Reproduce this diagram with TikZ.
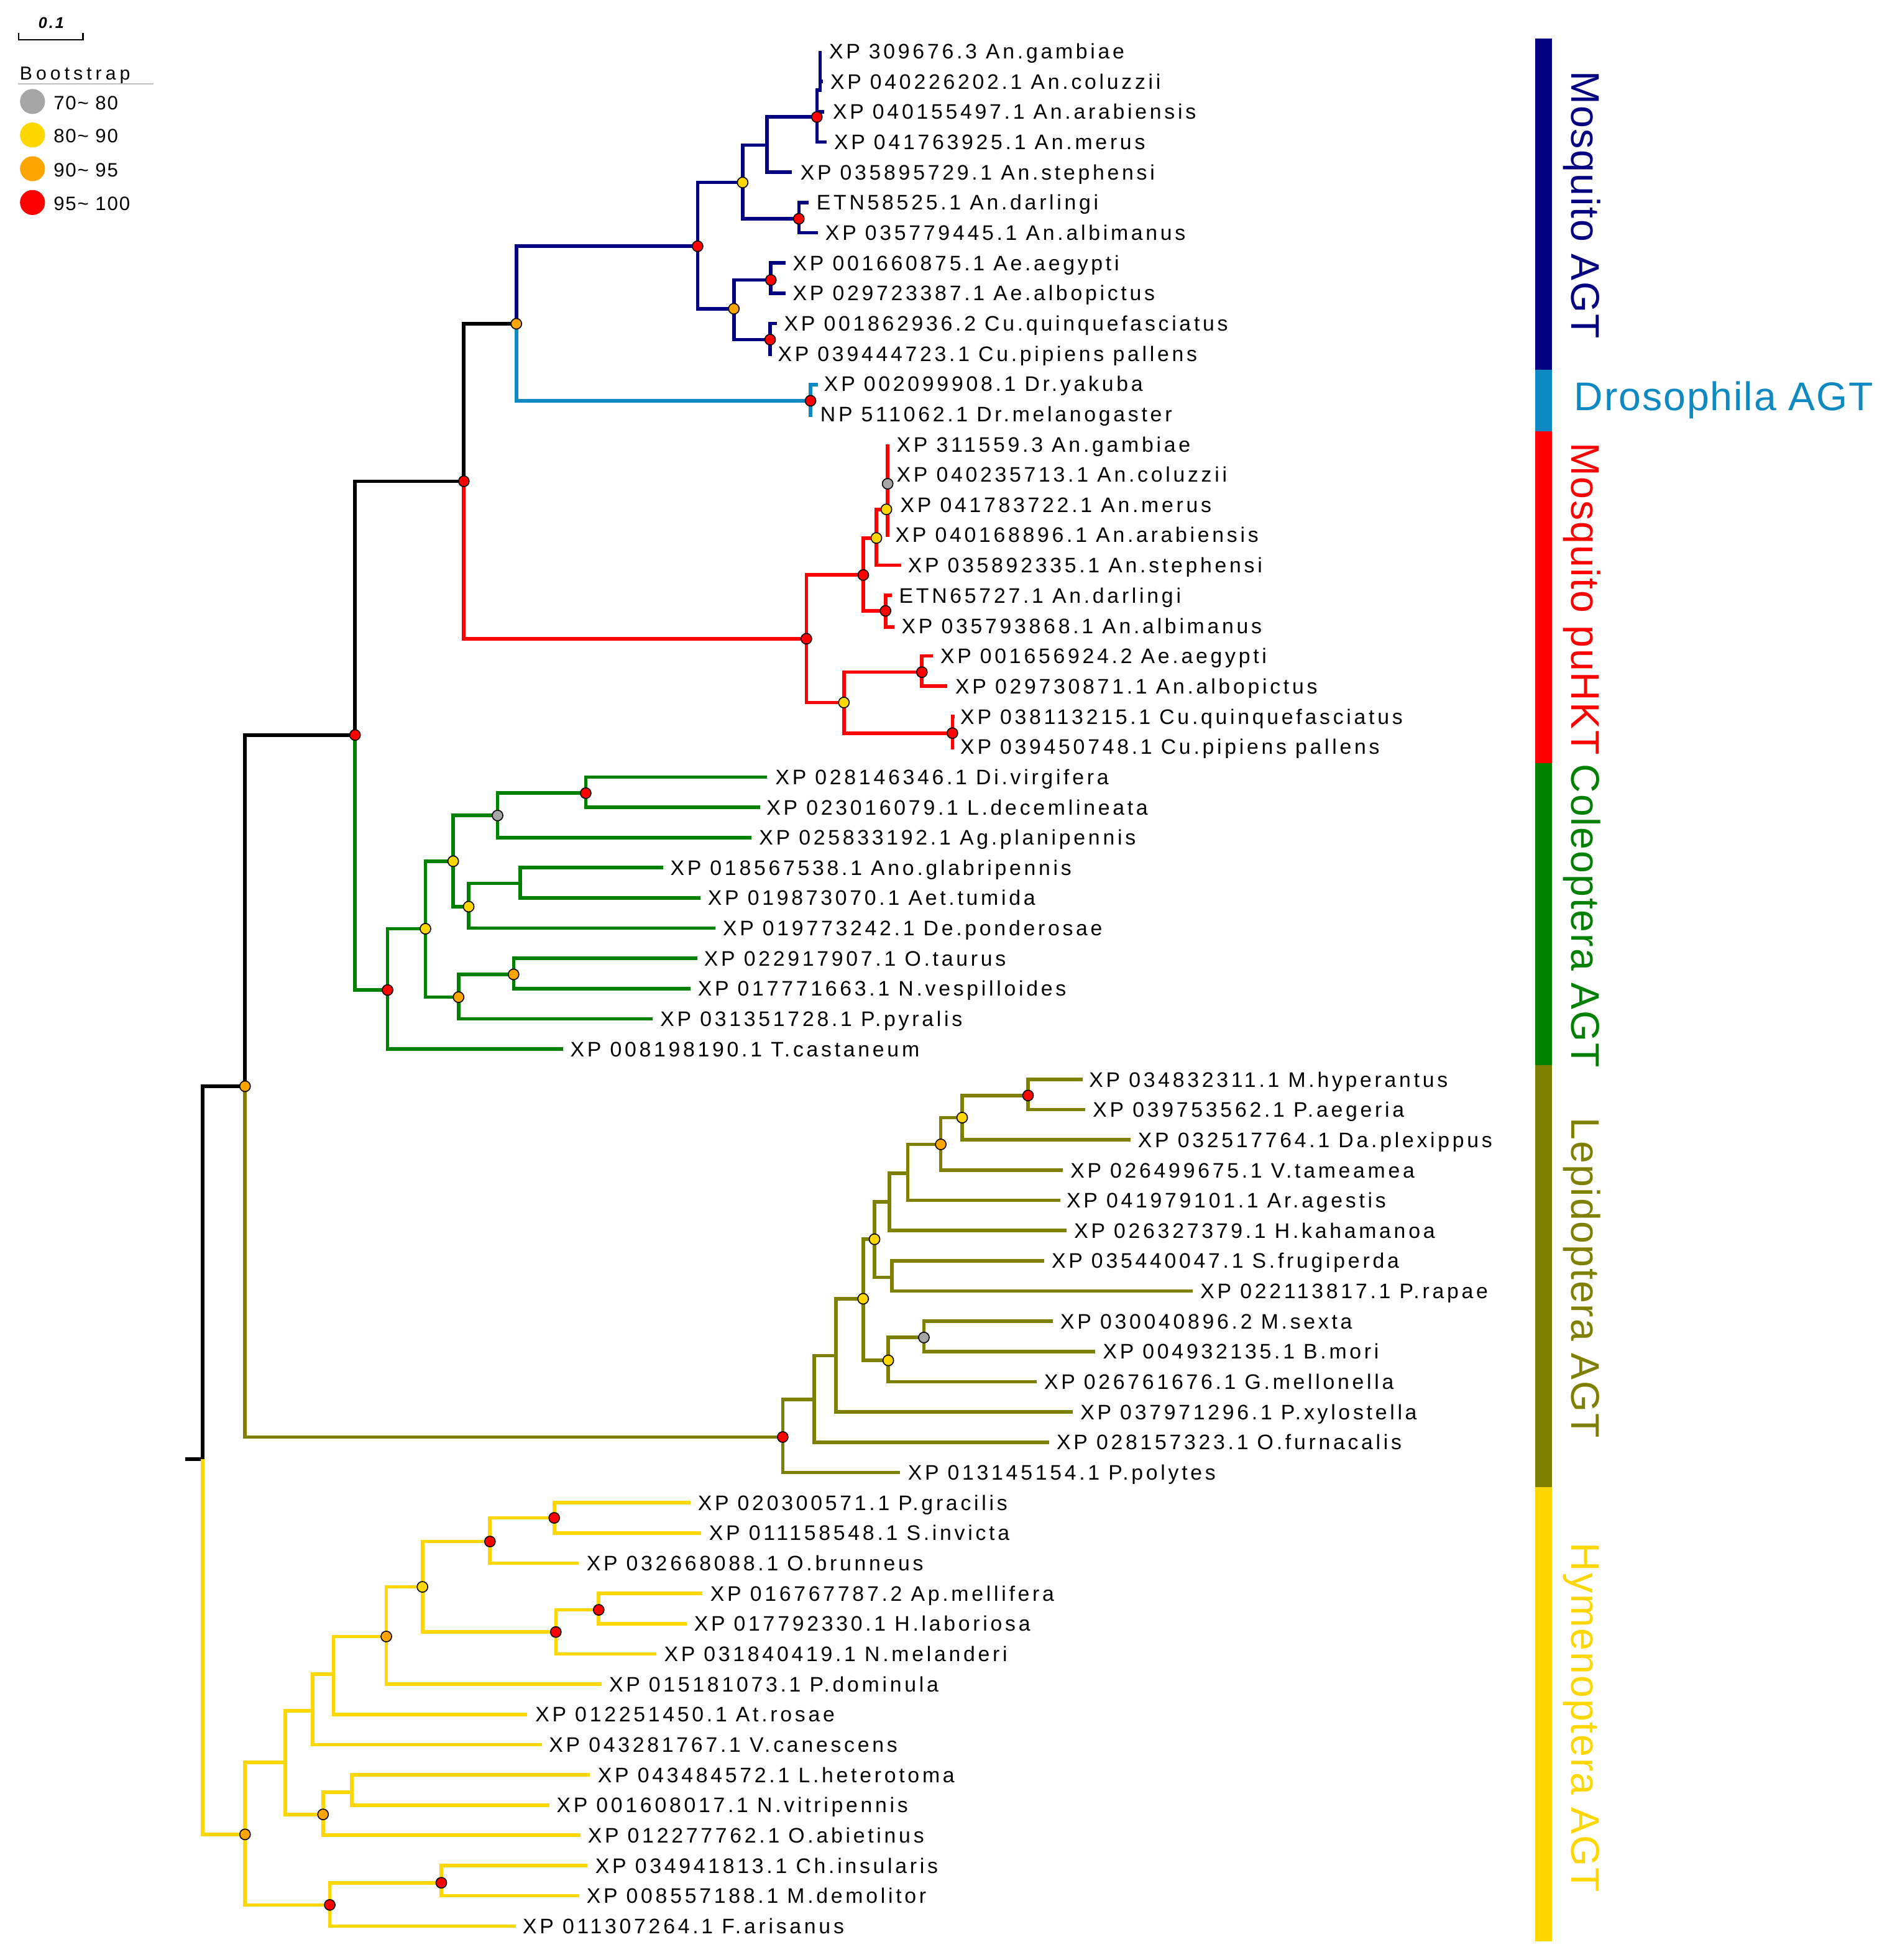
\documentclass[tikz,border=0pt]{standalone}
\usepackage{fontspec}
\setmainfont{Liberation Sans}
\newfontfamily\lbfont[LetterSpace=14]{Liberation Sans}
\newfontfamily\bsfont[LetterSpace=20]{Liberation Sans}
\newfontfamily\lgfont[LetterSpace=6]{Liberation Sans}
\newfontfamily\grfont[LetterSpace=3]{Liberation Sans}
\newfontfamily\scfont[LetterSpace=12]{Liberation Sans}
\definecolor{cnavy}{RGB}{0,0,128}
\definecolor{cdro}{RGB}{14,137,194}
\definecolor{cred}{RGB}{255,0,0}
\definecolor{cgreen}{RGB}{0,128,0}
\definecolor{colive}{RGB}{128,128,0}
\definecolor{cgold}{RGB}{255,215,0}
\definecolor{dgrey}{RGB}{166,166,166}
\definecolor{dyel}{RGB}{255,215,0}
\definecolor{dora}{RGB}{255,165,0}
\definecolor{dred}{RGB}{255,0,0}
\begin{document}
\begin{tikzpicture}[x=1pt,y=-1pt,
  br/.style={line width=2.8pt,line join=miter},
  lbl/.style={anchor=base west,inner sep=0pt,yshift=-6pt,font={\lbfont\fontsize{16.8}{18}\selectfont}},
  bs/.style={circle,draw=black,line width=0.8pt,inner sep=0pt,minimum size=8.5pt},
  gr/.style={bs,fill=dgrey}, ye/.style={bs,fill=dyel}, orr/.style={bs,fill=dora}, rd/.style={bs,fill=dred},
  grp/.style={inner sep=0pt,font={\grfont\fontsize{32}{36}\selectfont}},
  lgc/.style={circle,inner sep=0pt,minimum size=20pt},
  lgt/.style={anchor=base west,inner sep=0pt,font={\lgfont\fontsize{15.5}{18}\selectfont}}]
\useasboundingbox (0,0) rectangle (1505,1568);
% ---------------- internal nodes
\coordinate (RS) at (148,1167.2); \coordinate (R0) at (162,1167.2);
\coordinate (nA) at (196,869); \coordinate (nB) at (284,588); \coordinate (nC) at (371,385);
\coordinate (nD) at (413,259); \coordinate (nE) at (558,197); \coordinate (nF) at (594,146);
\coordinate (nG) at (613.6,116); \coordinate (nH) at (653.4,93.6); \coordinate (nH2) at (656,72);
\coordinate (nI) at (639,175); \coordinate (nJ) at (587,247); \coordinate (nK) at (616.6,224);
\coordinate (nL) at (616,271.7); \coordinate (nDro) at (648.3,320.6);
\coordinate (nM) at (645,511); \coordinate (nN) at (690.5,460); \coordinate (nP) at (701,430.4);
\coordinate (nR) at (709,407.5); \coordinate (nS) at (710,387); \coordinate (nQ) at (708.3,488.7);
\coordinate (nO) at (675,562); \coordinate (nT) at (737.4,537.7); \coordinate (nU) at (761.8,586.5);
\coordinate (nV) at (310,792); \coordinate (nW) at (340.3,743); \coordinate (nX) at (362.5,689);
\coordinate (nZ) at (398,652.4); \coordinate (nAB) at (468.5,634.5); \coordinate (nAA) at (374.9,725.3);
\coordinate (nAC) at (416.2,706.6); \coordinate (nY) at (366.8,797.7); \coordinate (nAD) at (410.8,779.5);
\coordinate (nAE) at (626.1,1149.6); \coordinate (nAF) at (651.1,1119.6); \coordinate (nAG) at (668.5,1084.5);
\coordinate (nAH) at (690.4,1039); \coordinate (nAI) at (699.5,991.4); \coordinate (nAK) at (711.3,961.4);
\coordinate (nAL) at (713.3,1021.8); \coordinate (nAM) at (726,938.6); \coordinate (nAN) at (752.5,915.5);
\coordinate (nAO) at (769.6,894.1); \coordinate (nAP) at (822.3,876.4); \coordinate (nAJ) at (710.5,1088.3);
\coordinate (nAQ) at (739,1070);
\coordinate (nAR) at (196,1467.5); \coordinate (nAS) at (228.3,1409.8); \coordinate (nAT) at (263.8,1523.9);
\coordinate (nAU) at (353,1506.2); \coordinate (nAV) at (250,1368.6); \coordinate (nAW) at (258.4,1451.5);
\coordinate (nAX) at (281.4,1433.6); \coordinate (nAY) at (266.7,1339.4); \coordinate (nAZ) at (309,1309.2);
\coordinate (nBA) at (337.9,1269.5); \coordinate (nBB) at (391.9,1233.2); \coordinate (nBD) at (443.3,1214.3);
\coordinate (nBC) at (444.6,1305.6); \coordinate (nBE) at (478.9,1287.9);
% ---------------- leaf tips
\coordinate (t1) at (656,41); \coordinate (t2) at (658,65.2); \coordinate (t3) at (659,89.4);
\coordinate (t4) at (661,113.6); \coordinate (t5) at (633.3,137.8); \coordinate (t6) at (647,162);
\coordinate (t7) at (654,186.1); \coordinate (t8) at (628.2,210.3); \coordinate (t9) at (628.2,234.5);
\coordinate (t10) at (621.6,258.7); \coordinate (t11) at (616,285); \coordinate (t12) at (654.4,307.6);
\coordinate (t13) at (648.3,333.8); \coordinate (t14) at (710,355.5); \coordinate (t17) at (710,429.5);
\coordinate (t18) at (720.7,452.2); \coordinate (t19) at (713.2,476.4); \coordinate (t20) at (715.3,501.5);
\coordinate (t21) at (746,524.8); \coordinate (t22) at (757.7,549); \coordinate (t23) at (763.5,573.2);
\coordinate (t24) at (761.8,599.5);
\coordinate (t25) at (613.6,621.6); \coordinate (t26) at (607.9,645.8); \coordinate (t27) at (601.2,670);
\coordinate (t28) at (530.2,694.1); \coordinate (t29) at (560.4,718.3); \coordinate (t30) at (572.4,742.5);
\coordinate (t31) at (557.6,766.7); \coordinate (t32) at (552.3,790.9); \coordinate (t33) at (522.2,815.1);
\coordinate (t34) at (450.3,839.3);
\coordinate (t35) at (865.8,863.5); \coordinate (t36) at (867.8,887.7); \coordinate (t37) at (904.3,911.9);
\coordinate (t38) at (850,936.1); \coordinate (t39) at (848,960.2); \coordinate (t40) at (853.2,984.4);
\coordinate (t41) at (835.4,1008.6); \coordinate (t42) at (954.2,1032.8); \coordinate (t43) at (842,1057);
\coordinate (t44) at (876,1081.2); \coordinate (t45) at (829,1105.4); \coordinate (t46) at (858,1129.6);
\coordinate (t47) at (839,1153.8); \coordinate (t48) at (720,1178);
\coordinate (t49) at (552.5,1202.2); \coordinate (t50) at (560.9,1226.3); \coordinate (t51) at (462.6,1250.5);
\coordinate (t52) at (561.6,1274.7); \coordinate (t53) at (549.2,1298.9); \coordinate (t54) at (524.9,1323.1);
\coordinate (t55) at (481.4,1347.3); \coordinate (t56) at (421.6,1371.5); \coordinate (t57) at (433.3,1395.7);
\coordinate (t58) at (471.8,1419.9); \coordinate (t59) at (439.6,1444.1); \coordinate (t60) at (464.2,1468.2);
\coordinate (t61) at (469.7,1492.4); \coordinate (t62) at (463.4,1516.6); \coordinate (t63) at (412.4,1540.8);
% ---------------- branches
\draw[br] (RS) -- (R0);
\draw[br] (nA) -| (R0);
\draw[br,cgold] (R0) |- (nAR);
\draw[br] (nB) -| (nA); \draw[br,colive] (nA) |- (nAE);
\draw[br] (nC) -| (nB); \draw[br,cgreen] (nB) |- (nV);
\draw[br] (nD) -| (nC); \draw[br,cred] (nC) |- (nM);
\draw[br,cnavy] (nE) -| (nD); \draw[br,cdro] (nD) |- (nDro);
\begin{scope}[cnavy]
\draw[br] (nF) -| (nE) |- (nJ);
\draw[br] (nG) -| (nF) |- (nI);
\draw[br] (nH) -| (nG) |- (t5);
\draw[br] (t1) -- (nH2) -| (nH) |- (t4);
\draw[br] (t3) -| (nH);
\draw[br] (t2) -| (nH2);
\draw[br] (t6) -| (nI) |- (t7);
\draw[br] (nK) -| (nJ) |- (nL);
\draw[br] (t8) -| (nK) |- (t9);
\draw[br] (t10) -| (nL) |- (t11);
\end{scope}
\draw[br,cdro] (t12) -| (nDro) |- (t13);
\begin{scope}[cred]
\draw[br] (nN) -| (nM) |- (nO);
\draw[br] (nP) -| (nN) |- (nQ);
\draw[br] (nR) -| (nP) |- (t18);
\draw[br] (t14) -- (t17);
\draw[br] (t19) -| (nQ) |- (t20);
\draw[br] (nT) -| (nO) |- (nU);
\draw[br] (t21) -| (nT) |- (t22);
\draw[br] (t23) -| (nU) |- (t24);
\end{scope}
\begin{scope}[cgreen]
\draw[br] (nW) -| (nV) |- (t34);
\draw[br] (nX) -| (nW) |- (nY);
\draw[br] (nZ) -| (nX) |- (nAA);
\draw[br] (nAB) -| (nZ) |- (t27);
\draw[br] (t25) -| (nAB) |- (t26);
\draw[br] (nAC) -| (nAA) |- (t30);
\draw[br] (t28) -| (nAC) |- (t29);
\draw[br] (nAD) -| (nY) |- (t33);
\draw[br] (t31) -| (nAD) |- (t32);
\end{scope}
\begin{scope}[colive]
\draw[br] (nAF) -| (nAE) |- (t48);
\draw[br] (nAG) -| (nAF) |- (t47);
\draw[br] (nAH) -| (nAG) |- (t46);
\draw[br] (nAI) -| (nAH) |- (nAJ);
\draw[br] (nAK) -| (nAI) |- (nAL);
\draw[br] (t41) -| (nAL) |- (t42);
\draw[br] (nAM) -| (nAK) |- (t40);
\draw[br] (nAN) -| (nAM) |- (t39);
\draw[br] (nAO) -| (nAN) |- (t38);
\draw[br] (nAP) -| (nAO) |- (t37);
\draw[br] (t35) -| (nAP) |- (t36);
\draw[br] (nAQ) -| (nAJ) |- (t45);
\draw[br] (t43) -| (nAQ) |- (t44);
\end{scope}
\begin{scope}[cgold]
\draw[br] (nAS) -| (nAR) |- (nAT);
\draw[br] (nAU) -| (nAT) |- (t63);
\draw[br] (t61) -| (nAU) |- (t62);
\draw[br] (nAV) -| (nAS) |- (nAW);
\draw[br] (nAX) -| (nAW) |- (t60);
\draw[br] (t58) -| (nAX) |- (t59);
\draw[br] (nAY) -| (nAV) |- (t57);
\draw[br] (nAZ) -| (nAY) |- (t56);
\draw[br] (nBA) -| (nAZ) |- (t55);
\draw[br] (nBB) -| (nBA) |- (nBC);
\draw[br] (nBD) -| (nBB) |- (t51);
\draw[br] (t49) -| (nBD) |- (t50);
\draw[br] (nBE) -| (nBC) |- (t54);
\draw[br] (t52) -| (nBE) |- (t53);
\end{scope}
% ---------------- bootstrap dots
\foreach \n in {nA,nD,nJ,nY,nAD,nAN,nAR,nAW,nAZ} \node[orr] (d\n) at (\n) {};
\foreach \n in {nB,nC,nE,nH,nI,nK,nL,nDro,nM,nN,nQ,nT,nU,nV,nAB,nAE,nAP,nAT,nAU,nBB,nBD,nBC,nBE} \node[rd] (d\n) at (\n) {};
\foreach \n in {nF,nP,nR,nO,nW,nX,nAA,nAH,nAI,nAO,nAJ,nBA} \node[ye] (d\n) at (\n) {};
\foreach \n in {nS,nZ,nAQ} \node[gr] (d\n) at (\n) {};
% ---------------- leaf labels
\node[lbl] (l1) at (663,41) {XP 309676.3 An.gambiae};
\node[lbl] (l2) at (664,65.2) {XP 040226202.1 An.coluzzii};
\node[lbl] (l3) at (666,89.4) {XP 040155497.1 An.arabiensis};
\node[lbl] (l4) at (667,113.6) {XP 041763925.1 An.merus};
\node[lbl] (l5) at (640,137.8) {XP 035895729.1 An.stephensi};
\node[lbl] (l6) at (653,162) {ETN58525.1 An.darlingi};
\node[lbl] (l7) at (660,186.1) {XP 035779445.1 An.albimanus};
\node[lbl] (l8) at (634,210.3) {XP 001660875.1 Ae.aegypti};
\node[lbl] (l9) at (634,234.5) {XP 029723387.1 Ae.albopictus};
\node[lbl] (l10) at (627,258.7) {XP 001862936.2 Cu.quinquefasciatus};
\node[lbl] (l11) at (622,282.9) {XP 039444723.1 Cu.pipiens pallens};
\node[lbl] (l12) at (659,307.1) {XP 002099908.1 Dr.yakuba};
\node[lbl] (l13) at (656,331.3) {NP 511062.1 Dr.melanogaster};
\node[lbl] (l14) at (717,355.5) {XP 311559.3 An.gambiae};
\node[lbl] (l15) at (717,379.7) {XP 040235713.1 An.coluzzii};
\node[lbl] (l16) at (720,403.9) {XP 041783722.1 An.merus};
\node[lbl] (l17) at (716,428) {XP 040168896.1 An.arabiensis};
\node[lbl] (l18) at (726,452.2) {XP 035892335.1 An.stephensi};
\node[lbl] (l19) at (719,476.4) {ETN65727.1 An.darlingi};
\node[lbl] (l20) at (721,500.6) {XP 035793868.1 An.albimanus};
\node[lbl] (l21) at (752,524.8) {XP 001656924.2 Ae.aegypti};
\node[lbl] (l22) at (764,549) {XP 029730871.1 An.albopictus};
\node[lbl] (l23) at (768,573.2) {XP 038113215.1 Cu.quinquefasciatus};
\node[lbl] (l24) at (768,597.4) {XP 039450748.1 Cu.pipiens pallens};
\node[lbl] (l25) at (620,621.6) {XP 028146346.1 Di.virgifera};
\node[lbl] (l26) at (613,645.8) {XP 023016079.1 L.decemlineata};
\node[lbl] (l27) at (607,670) {XP 025833192.1 Ag.planipennis};
\node[lbl] (l28) at (536,694.1) {XP 018567538.1 Ano.glabripennis};
\node[lbl] (l29) at (566,718.3) {XP 019873070.1 Aet.tumida};
\node[lbl] (l30) at (578,742.5) {XP 019773242.1 De.ponderosae};
\node[lbl] (l31) at (563,766.7) {XP 022917907.1 O.taurus};
\node[lbl] (l32) at (558,790.9) {XP 017771663.1 N.vespilloides};
\node[lbl] (l33) at (528,815.1) {XP 031351728.1 P.pyralis};
\node[lbl] (l34) at (456,839.3) {XP 008198190.1 T.castaneum};
\node[lbl] (l35) at (871,863.5) {XP 034832311.1 M.hyperantus};
\node[lbl] (l36) at (874,887.7) {XP 039753562.1 P.aegeria};
\node[lbl] (l37) at (910,911.9) {XP 032517764.1 Da.plexippus};
\node[lbl] (l38) at (856,936.1) {XP 026499675.1 V.tameamea};
\node[lbl] (l39) at (853,960.2) {XP 041979101.1 Ar.agestis};
\node[lbl] (l40) at (859,984.4) {XP 026327379.1 H.kahamanoa};
\node[lbl] (l41) at (841,1008.6) {XP 035440047.1 S.frugiperda};
\node[lbl] (l42) at (960,1032.8) {XP 022113817.1 P.rapae};
\node[lbl] (l43) at (848,1057) {XP 030040896.2 M.sexta};
\node[lbl] (l44) at (882,1081.2) {XP 004932135.1 B.mori};
\node[lbl] (l45) at (835,1105.4) {XP 026761676.1 G.mellonella};
\node[lbl] (l46) at (864,1129.6) {XP 037971296.1 P.xylostella};
\node[lbl] (l47) at (845,1153.8) {XP 028157323.1 O.furnacalis};
\node[lbl] (l48) at (726,1178) {XP 013145154.1 P.polytes};
\node[lbl] (l49) at (558,1202.2) {XP 020300571.1 P.gracilis};
\node[lbl] (l50) at (567,1226.3) {XP 011158548.1 S.invicta};
\node[lbl] (l51) at (469,1250.5) {XP 032668088.1 O.brunneus};
\node[lbl] (l52) at (568,1274.7) {XP 016767787.2 Ap.mellifera};
\node[lbl] (l53) at (555,1298.9) {XP 017792330.1 H.laboriosa};
\node[lbl] (l54) at (531,1323.1) {XP 031840419.1 N.melanderi};
\node[lbl] (l55) at (487,1347.3) {XP 015181073.1 P.dominula};
\node[lbl] (l56) at (428,1371.5) {XP 012251450.1 At.rosae};
\node[lbl] (l57) at (439,1395.7) {XP 043281767.1 V.canescens};
\node[lbl] (l58) at (478,1419.9) {XP 043484572.1 L.heterotoma};
\node[lbl] (l59) at (445,1444.1) {XP 001608017.1 N.vitripennis};
\node[lbl] (l60) at (470,1468.2) {XP 012277762.1 O.abietinus};
\node[lbl] (l61) at (476,1492.4) {XP 034941813.1 Ch.insularis};
\node[lbl] (l62) at (469,1516.6) {XP 008557188.1 M.demolitor};
\node[lbl] (l63) at (418,1540.8) {XP 011307264.1 F.arisanus};
% ---------------- clade bars and names
\fill[cnavy] (1228,30.7) rectangle (1241.6,295.9);
\fill[cdro] (1228,295.9) rectangle (1241.6,345);
\fill[cred] (1228,345) rectangle (1241.6,610.7);
\fill[cgreen] (1228,610.7) rectangle (1241.6,852.2);
\fill[colive] (1228,852.2) rectangle (1241.6,1189.7);
\fill[cgold] (1228,1189.7) rectangle (1241.6,1553.3);
\node[grp,text=cnavy,rotate=-90,anchor=base] (g1) at (1257,164) {Mosquito AGT};
\node[grp,text=cdro,anchor=base west] (g2) at (1259,328.2) {Drosophila AGT};
\node[grp,text=cred,rotate=-90,anchor=base] (g3) at (1257,478.9) {Mosquito puHKT};
\node[grp,text=cgreen,rotate=-90,anchor=base] (g4) at (1257,732.7) {Coleoptera AGT};
\node[grp,text=colive,rotate=-90,anchor=base] (g5) at (1257,1022.4) {Lepidoptera AGT};
\node[grp,text=cgold,rotate=-90,anchor=base] (g6) at (1257,1374) {Hymenoptera AGT};
% ---------------- legend
\draw[line width=1.2pt] (15,26.5) -- (15,31.8) -- (66.3,31.8) -- (66.3,26.5);
\node[anchor=base,inner sep=0pt,font={\scfont\bfseries\itshape\fontsize{12.5}{14}\selectfont}] (sc) at (41,22.6) {0.1};
\node[anchor=base west,inner sep=0pt,font={\bsfont\fontsize{15}{18}\selectfont}] (bt) at (15.7,63.8) {Bootstrap};
\draw[line width=1pt,black!25] (14.6,67.1) -- (122.6,67.1);
\node[lgc,fill=dgrey] (k1) at (26,81.2) {};
\node[lgc,fill=dyel] (k2) at (26,108) {};
\node[lgc,fill=dora] (k3) at (26,135) {};
\node[lgc,fill=dred] (k4) at (26,162) {};
\node[lgt] (k1t) at (42.7,87.5) {70\textasciitilde{} 80};
\node[lgt] (k2t) at (42.7,114.3) {80\textasciitilde{} 90};
\node[lgt] (k3t) at (42.7,141.3) {90\textasciitilde{} 95};
\node[lgt] (k4t) at (42.7,168.3) {95\textasciitilde{} 100};
\end{tikzpicture}
\end{document}
